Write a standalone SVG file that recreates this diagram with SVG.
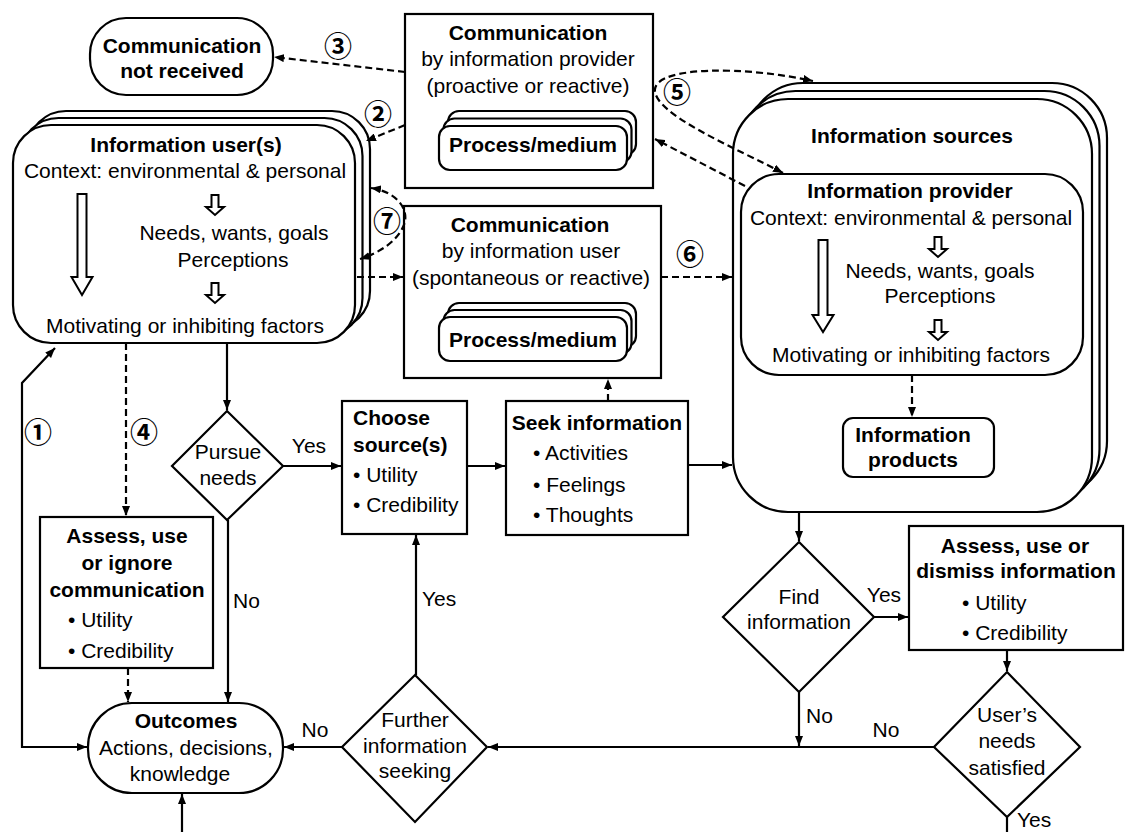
<svg xmlns="http://www.w3.org/2000/svg" width="1127" height="832" viewBox="0 0 1127 832">
  <style>
    text { font-family: "Liberation Sans", Arial, sans-serif; font-size: 21px; fill: #000; }
    .b { font-weight: bold; }
    .m { text-anchor: middle; }
    .num { font-family: "Noto Sans CJK JP", "DejaVu Sans", sans-serif; font-size: 28px; font-weight: bold; text-anchor: middle; }
    .box { fill: #fff; stroke: #000; stroke-width: 2.2; }
    .hol { fill: #fff; stroke: #000; stroke-width: 2; }
    .ln { fill: none; stroke: #000; stroke-width: 2.2; }
    .ds { fill: none; stroke: #000; stroke-width: 2.2; stroke-dasharray: 7 4; }
  </style>
  <defs>
    <marker id="ah" markerUnits="userSpaceOnUse" markerWidth="10" markerHeight="8" refX="10" refY="4" orient="auto-start-reverse">
      <path d="M0,0 L10,4 L0,8 Z" fill="#000"/>
    </marker>
    <!-- hollow block arrows -->
    <path id="smallArrow" d="M-3.5,0 H3.5 V12 H9 L0,20 L-9,12 H-3.5 Z"/>
  </defs>

  <rect width="1127" height="832" fill="#fff"/>

  <!-- Communication not received -->
  <g id="not-received">
    <rect class="box" x="90" y="18" width="183" height="77" rx="36"/>
    <text class="b m" x="182" y="53">Communication</text>
    <text class="b m" x="182" y="78">not received</text>
  </g>

  <!-- Communication by information provider -->
  <g id="comm-provider">
    <rect class="box" x="405" y="14" width="248" height="174"/>
    <text class="b m" x="528" y="40">Communication</text>
    <text class="m" x="528" y="66">by information provider</text>
    <text class="m" x="528" y="93">(proactive or reactive)</text>
    <rect class="box" x="448" y="111" width="188" height="44" rx="11"/>
    <rect class="box" x="443.5" y="118.5" width="188" height="44" rx="11"/>
    <rect class="box" x="439" y="126" width="188" height="44" rx="11"/>
    <text class="b m" x="533" y="152">Process/medium</text>
  </g>

  <!-- Information user(s) -->
  <g id="info-user">
    <rect class="box" x="28" y="111" width="342" height="218" rx="38"/>
    <rect class="box" x="20.5" y="118" width="342" height="218" rx="38"/>
    <rect class="box" x="13" y="125" width="342" height="218" rx="38"/>
    <text class="b m" x="186" y="152">Information user(s)</text>
    <text class="m" x="185" y="178">Context: environmental &amp; personal</text>
    <path class="hol" d="M77.5,194 H86.5 V277 H92.5 L82,295 L71.5,277 H77.5 Z"/>
    <use href="#smallArrow" class="hol" x="215" y="195"/>
    <text class="m" x="234" y="240">Needs, wants, goals</text>
    <text class="m" x="233" y="267">Perceptions</text>
    <use href="#smallArrow" class="hol" x="215" y="283"/>
    <text class="m" x="185" y="333">Motivating or inhibiting factors</text>
  </g>

  <!-- Communication by information user -->
  <g id="comm-user">
    <rect class="box" x="404" y="206" width="257" height="172"/>
    <text class="b m" x="530" y="232">Communication</text>
    <text class="m" x="531" y="258">by information user</text>
    <text class="m" x="531" y="285">(spontaneous or reactive)</text>
    <rect class="box" x="448" y="303" width="188" height="44" rx="11"/>
    <rect class="box" x="443.5" y="310" width="188" height="44" rx="11"/>
    <rect class="box" x="439" y="317" width="188" height="44" rx="11"/>
    <text class="b m" x="533" y="347">Process/medium</text>
  </g>

  <!-- Information sources with provider and products -->
  <g id="info-sources">
    <rect class="box" x="748" y="83" width="359" height="413" rx="55"/>
    <rect class="box" x="740.5" y="91" width="359" height="413" rx="55"/>
    <rect class="box" x="733" y="99" width="359" height="413" rx="55"/>
    <text class="b m" x="912" y="143">Information sources</text>
  </g>
  <g id="info-provider">
    <rect class="box" x="741" y="174" width="342" height="201" rx="38"/>
    <text class="b m" x="910" y="198">Information provider</text>
    <text class="m" x="911" y="225">Context: environmental &amp; personal</text>
    <path class="hol" d="M818.5,240 H827.5 V315 H833.5 L823,332 L812.5,315 H818.5 Z"/>
    <use href="#smallArrow" class="hol" x="938" y="237"/>
    <text class="m" x="940" y="278">Needs, wants, goals</text>
    <text class="m" x="940" y="303">Perceptions</text>
    <use href="#smallArrow" class="hol" x="938" y="320"/>
    <text class="m" x="911" y="362">Motivating or inhibiting factors</text>
  </g>
  <g id="info-products">
    <rect class="box" x="843" y="418" width="151" height="59" rx="10"/>
    <text class="b m" x="913" y="442">Information</text>
    <text class="b m" x="913" y="467">products</text>
  </g>

  <!-- Pursue needs decision -->
  <g id="pursue-needs">
    <polygon class="box" points="227,411 283,466 227,520 172,466"/>
    <text class="m" x="228" y="459">Pursue</text>
    <text class="m" x="228" y="485">needs</text>
  </g>

  <!-- Choose source(s) -->
  <g id="choose-source">
    <rect class="box" x="342" y="401" width="125" height="133"/>
    <text class="b" x="353" y="425">Choose</text>
    <text class="b" x="353" y="452">source(s)</text>
    <text x="353" y="482">• Utility</text>
    <text x="353" y="512">• Credibility</text>
  </g>

  <!-- Seek information -->
  <g id="seek-info">
    <rect class="box" x="506" y="401" width="182" height="134"/>
    <text class="b m" x="597" y="430">Seek information</text>
    <text x="533" y="460">• Activities</text>
    <text x="533" y="492">• Feelings</text>
    <text x="533" y="522">• Thoughts</text>
  </g>

  <!-- Assess, use or ignore communication -->
  <g id="assess-ignore">
    <rect class="box" x="40" y="517" width="173" height="151"/>
    <text class="b m" x="127" y="543">Assess, use</text>
    <text class="b m" x="127" y="570">or ignore</text>
    <text class="b m" x="127" y="597">communication</text>
    <text x="68" y="627">• Utility</text>
    <text x="68" y="658">• Credibility</text>
  </g>

  <!-- Outcomes -->
  <g id="outcomes">
    <rect class="box" x="88" y="703" width="195" height="90" rx="44"/>
    <text class="b m" x="186" y="728">Outcomes</text>
    <text class="m" x="186" y="755">Actions, decisions,</text>
    <text class="m" x="180" y="781">knowledge</text>
  </g>

  <!-- Further information seeking decision -->
  <g id="further-seeking">
    <polygon class="box" points="415,675 487,747 415,822 342,747"/>
    <text class="m" x="415" y="727">Further</text>
    <text class="m" x="415" y="753">information</text>
    <text class="m" x="415" y="778">seeking</text>
  </g>

  <!-- Find information decision -->
  <g id="find-info">
    <polygon class="box" points="799,542 874,617 799,692 723,617"/>
    <text class="m" x="799" y="604">Find</text>
    <text class="m" x="799" y="629">information</text>
  </g>

  <!-- Assess, use or dismiss information -->
  <g id="assess-dismiss">
    <rect class="box" x="909" y="526" width="214" height="124"/>
    <text class="b m" x="1015" y="553">Assess, use or</text>
    <text class="b m" x="1016" y="578">dismiss information</text>
    <text x="962" y="610">• Utility</text>
    <text x="962" y="640">• Credibility</text>
  </g>

  <!-- User's needs satisfied decision -->
  <g id="needs-satisfied">
    <polygon class="box" points="1007,672 1080,747 1007,817 934,747"/>
    <text class="m" x="1007" y="722">User’s</text>
    <text class="m" x="1007" y="748">needs</text>
    <text class="m" x="1007" y="775">satisfied</text>
  </g>

  <!-- Connectors -->
  <g id="connectors">
    <line class="ds" x1="405" y1="72" x2="274" y2="57" marker-end="url(#ah)"/>
    <line class="ds" x1="405" y1="125" x2="366" y2="141" marker-end="url(#ah)"/>
    <path class="ds" d="M371,188 C398,192 411,211 403,227 C396,242 379,253 360,259" marker-start="url(#ah)" marker-end="url(#ah)"/>
    <line class="ds" x1="357" y1="277" x2="403" y2="277" marker-end="url(#ah)"/>
    <line class="ds" x1="661" y1="277" x2="732" y2="277" marker-end="url(#ah)"/>
    <path class="ds" d="M783,173 C740,150 652,114 655,89 C658,66 745,66 813,81" marker-start="url(#ah)" marker-end="url(#ah)"/>
    <line class="ds" x1="745" y1="186" x2="655" y2="139" marker-end="url(#ah)"/>
    <line class="ds" x1="912" y1="375" x2="912" y2="417" marker-end="url(#ah)"/>
    <line class="ds" x1="608" y1="401" x2="608" y2="379" marker-end="url(#ah)"/>
    <line class="ds" x1="126" y1="343" x2="126" y2="516" marker-end="url(#ah)"/>
    <line class="ds" x1="128" y1="668" x2="128" y2="702" marker-end="url(#ah)"/>
    <polyline class="ln" points="55,348 22,383 22,747 87,747" marker-start="url(#ah)" marker-end="url(#ah)"/>
    <line class="ln" x1="227" y1="343" x2="227" y2="410" marker-end="url(#ah)"/>
    <line class="ln" x1="283" y1="466" x2="341" y2="466" marker-end="url(#ah)"/>
    <line class="ln" x1="228" y1="520" x2="228" y2="702" marker-end="url(#ah)"/>
    <line class="ln" x1="467" y1="466" x2="505" y2="466" marker-end="url(#ah)"/>
    <line class="ln" x1="688" y1="465" x2="732" y2="465" marker-end="url(#ah)"/>
    <line class="ln" x1="799" y1="512" x2="799" y2="541" marker-end="url(#ah)"/>
    <line class="ln" x1="874" y1="617" x2="908" y2="617" marker-end="url(#ah)"/>
    <line class="ln" x1="799" y1="692" x2="799" y2="746" marker-end="url(#ah)"/>
    <line class="ln" x1="1007" y1="650" x2="1007" y2="671" marker-end="url(#ah)"/>
    <line class="ln" x1="934" y1="747" x2="488" y2="747" marker-end="url(#ah)"/>
    <line class="ln" x1="342" y1="747" x2="284" y2="747" marker-end="url(#ah)"/>
    <line class="ln" x1="416" y1="675" x2="416" y2="535" marker-end="url(#ah)"/>
    <line class="ln" x1="182" y1="832" x2="182" y2="794" marker-end="url(#ah)"/>
    <line class="ln" x1="1007" y1="817" x2="1007" y2="832"/>

    <!-- connector labels -->
    <text class="num" x="338" y="57">③</text>
    <text class="num" x="378" y="125">②</text>
    <text class="num" x="387" y="232">⑦</text>
    <text class="num" x="677" y="103">⑤</text>
    <text class="num" x="690" y="265">⑥</text>
    <text class="num" x="38" y="443">①</text>
    <text class="num" x="144" y="443">④</text>
    <text class="m" x="309" y="453">Yes</text>
    <text x="233" y="608">No</text>
    <text x="422" y="606">Yes</text>
    <text class="m" x="315" y="737">No</text>
    <text class="m" x="884" y="602">Yes</text>
    <text x="806" y="723">No</text>
    <text class="m" x="886" y="737">No</text>
    <text x="1017" y="827">Yes</text>
  </g>
</svg>
